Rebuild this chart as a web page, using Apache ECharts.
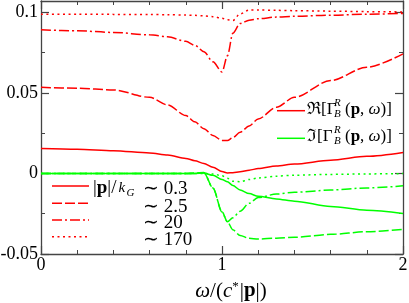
<!DOCTYPE html>
<html>
<head>
<meta charset="utf-8">
<script src="https://cdn.jsdelivr.net/npm/echarts@6/dist/echarts.min.js"></script>
<style>
html,body{margin:0;padding:0;background:#fff;}
#c{width:409px;height:303px;}
</style>
</head>
<body>
<div id="c"></div>
<script>
// ---- data ----
const omega = [0, 0.2, 0.4, 0.6, 0.7, 0.8, 0.85, 0.9, 0.95, 1.0, 1.03, 1.06, 1.1, 1.15, 1.2, 1.3, 1.4, 1.6, 1.8, 2.0];
// Re[Gamma] for |p|/kG ~ 0.3, 2.5, 20, 170
const re03  = [0.0155, 0.0150, 0.0141, 0.0127, 0.0114, 0.0093, 0.0079, 0.0062, 0.0038, 0.0012, 0.0003, 0.0004, 0.0010, 0.0020, 0.0030, 0.0046, 0.0058, 0.0082, 0.0106, 0.0130];
const re25  = [0.0534, 0.0529, 0.0518, 0.0472, 0.0425, 0.0359, 0.0320, 0.0278, 0.0235, 0.0205, 0.0205, 0.0222, 0.0255, 0.0295, 0.0338, 0.0410, 0.0472, 0.0576, 0.0659, 0.0742];
const re20  = [0.0891, 0.0885, 0.0875, 0.0860, 0.0848, 0.0820, 0.0795, 0.0755, 0.0693, 0.0630, 0.0730, 0.0870, 0.0930, 0.0950, 0.0960, 0.0970, 0.0975, 0.0982, 0.0988, 0.0993];
const re170 = [0.0988, 0.0988, 0.0987, 0.0986, 0.0985, 0.0983, 0.0981, 0.0978, 0.0973, 0.0963, 0.0953, 0.0949, 0.0990, 0.1014, 0.1014, 0.1012, 0.1010, 0.1007, 0.1004, 0.1002];
// Im[Gamma]
const im03  = [0, 0, 0, 0, 0, 0, 0, 0.0002, -0.0012, -0.0038, -0.0052, -0.0075, -0.0103, -0.0125, -0.0142, -0.0158, -0.0172, -0.0205, -0.0228, -0.0248];
const im25  = [0, 0, 0, 0, 0, 0, 0.0003, 0.0005, -0.0090, -0.0238, -0.0300, -0.0350, -0.0385, -0.0403, -0.0407, -0.0402, -0.0396, -0.0378, -0.0362, -0.0347];
const im20  = [0, 0, 0, 0, 0, 0, 0, 0.0004, -0.0090, -0.0240, -0.0300, -0.0275, -0.0235, -0.0185, -0.0150, -0.0128, -0.0117, -0.0103, -0.0090, -0.0077];
const im170 = [0, 0, 0, 0, 0, 0, 0, 0, -0.0003, -0.0015, -0.0030, -0.0048, -0.0052, -0.0038, -0.0028, -0.0017, -0.0011, -0.0006, -0.0003, -0.0001];

const xTickValues = [0, 1, 2];
const xTickLabels = ['0', '1', '2'];
const yTickValues = [-0.05, 0, 0.05, 0.1];
const yTickLabels = ['-0.05', '0', '0.05', '0.1'];
const yMinorValues = [-0.025, 0.025, 0.075];
const legendLabels = ['0.3', '2.5', '20', '170'];

// ---- styling ----
const RED = '#ff0000', GREEN = '#00ff00';
const FONT = 'Liberation Serif';
const AX = '#444';
const dashes = ['solid', [10, 3], [10, 3, 2, 3], [2, 3.5]];

function pairs(ys){ return omega.map((x,i)=>[x, ys[i]]); }

const reSets = [re03, re25, re20, re170];
const imSets = [im03, im25, im20, im170];
const series = [];
imSets.forEach((d,k)=>series.push({type:'line', data:pairs(d), showSymbol:false, smooth:0.3, smoothMonotone:'x',
  lineStyle:{color:GREEN, width:1.5, type:dashes[k]}, z:2}));
reSets.forEach((d,k)=>series.push({type:'line', data:pairs(d), showSymbol:false, smooth:0.3, smoothMonotone:'x',
  lineStyle:{color:RED, width:1.5, type:dashes[k]}, z:3}));

function xAxisDef(pos, labels){
  return {type:'value', position:pos, min:0, max:2, interval:1,
    axisLine:{show:true, onZero:false, lineStyle:{color:AX, width:1.3}},
    axisTick:{show:true, inside:true, length:8, lineStyle:{color:AX, width:1.2}},
    minorTick:{show:true, splitNumber:5, length:4, lineStyle:{color:AX, width:1}},
    splitLine:{show:false}, minorSplitLine:{show:false},
    axisLabel:{show:labels, margin:2, fontFamily:FONT, fontSize:18, color:'#000',
      formatter:v=>{const i=xTickValues.indexOf(v); return i>=0?xTickLabels[i]:'';}}};
}
function yAxisDef(pos, major, labels){
  const vals = major ? yTickValues : yMinorValues;
  return {type:'value', position:pos, min:-0.05, max:0.107,
    axisLine:{show:major, onZero:false, lineStyle:{color:AX, width:1.3}},
    axisTick:{show:true, inside:true, length:major?8:4, customValues:vals, lineStyle:{color:AX, width:major?1.2:1}},
    splitLine:{show:false},
    axisLabel:{show:labels, customValues:yTickValues, margin:3, fontFamily:FONT, fontSize:18, color:'#000',
      formatter:v=>{let i=-1; yTickValues.forEach((t,j)=>{if(Math.abs(t-v)<1e-9)i=j;}); return i>=0?yTickLabels[i]:'';}}};
}

const gText = (x,y,text,size,extra)=>Object.assign({type:'text', x:x, y:y, silent:true,
  style:Object.assign({text:text, font:size+'px "'+FONT+'"', fill:'#000', align:'left', verticalAlign:'middle'}, extra||{})}, {});

const graphics = [];
// upper-right legend
[[RED,'\u211C',110.7],[GREEN,'\u2111',138.3]].forEach(([col,sym,y])=>{
  graphics.push({type:'line', shape:{x1:277,y1:y,x2:305,y2:y}, style:{stroke:col, lineWidth:1.5}, silent:true});
  graphics.push(gText(307, y-1.5, sym+'[\u0393', 17));
  graphics.push(gText(334, y-8, 'R', 11, {font:'italic 11px "'+FONT+'"'}));
  graphics.push(gText(334, y+3, 'B', 11, {font:'italic 11px "'+FONT+'"'}));
  graphics.push({type:'text', x:345, y:y-1.5, silent:true, style:{
    text:'({b|p}, {i|\u03C9})]', font:'17px "'+FONT+'"', fill:'#000', verticalAlign:'middle',
    rich:{b:{fontFamily:FONT, fontSize:17, fontWeight:'bold'}, i:{fontFamily:FONT, fontSize:17, fontStyle:'italic'}}}});
});
// lower-left legend
const legY = [186, 203.3, 220, 236.7];
const legTextY = [189.5, 207, 223.5, 240];
legY.forEach((y,k)=>{
  const ld = dashes[k]==='solid' ? null : dashes[k];
  graphics.push({type:'line', shape:{x1:52,y1:y,x2:89,y2:y}, style:{stroke:RED, lineWidth:1.5, lineDash:ld}, silent:true});
  graphics.push(gText(143, legTextY[k], '\u223C ' + legendLabels[k], 19));
});
graphics.push({type:'text', x:93, y:188, silent:true, style:{
  text:'|{b|p}|/', font:'19px "'+FONT+'"', fill:'#000', verticalAlign:'middle',
  rich:{b:{fontFamily:FONT, fontSize:19, fontWeight:'bold'}}}});
graphics.push(gText(118.5, 188, 'k', 15, {font:'italic 15px "'+FONT+'"'}));
graphics.push(gText(126.5, 193, 'G', 11, {font:'italic 11px "'+FONT+'"'}));
// x-axis title
graphics.push({type:'text', x:231, y:291, silent:true, style:{
  text:'{i|\u03C9}/({i|c}{s|*}|{b|p}|)', font:'21px "'+FONT+'"', fill:'#000', align:'center', verticalAlign:'middle',
  rich:{i:{fontFamily:FONT, fontSize:21, fontStyle:'italic'}, b:{fontFamily:FONT, fontSize:21, fontWeight:'bold'},
        s:{fontFamily:FONT, fontSize:13, verticalAlign:'top', padding:[0,1,8,0]}}}});

const chart = echarts.init(document.getElementById('c'), null, {renderer:'canvas'});
chart.setOption({
  animation:false,
  backgroundColor:'#fff',
  grid:{left:41, right:6, top:1, bottom:49, containLabel:false, outerBoundsMode:'none'},
  xAxis:[xAxisDef('bottom', true), xAxisDef('top', false)],
  yAxis:[yAxisDef('left', true, true), yAxisDef('left', false, false), yAxisDef('right', true, false), yAxisDef('right', false, false)],
  series:series,
  graphic:graphics
});
</script>
</body>
</html>
